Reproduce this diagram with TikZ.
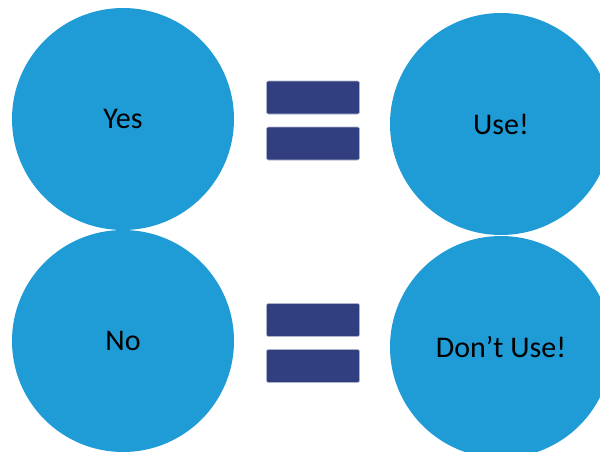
\documentclass[tikz,border=0pt]{standalone}
\usepackage{fontspec}
\setmainfont{Carlito}
\definecolor{disc}{RGB}{31,155,214}
\definecolor{bar}{RGB}{49,63,128}
\usetikzlibrary{positioning}

\begin{document}
\begin{tikzpicture}[x=1pt,y=-1pt,
        disc/.style={circle,fill=disc,inner sep=0pt,minimum size=222pt,font=\fontsize{30}{36}\selectfont},
        bar/.style={rectangle,fill=bar,draw=bar!40!white,line width=.6pt,rounded corners=2pt,minimum width=93pt,minimum height=33pt,inner sep=0pt}]
        \useasboundingbox (0,0) rectangle (600,451);
        \node[disc] (yes) at (123,119) {Yes};
        \node[disc] (use) at (501,124) {Use!};
        \node[disc] (no) at (123,341) {No};
        \node[disc] (dont) at (501,347) {Don’t Use!};
        % equals signs
        \node[bar] (eqa) at (313,97.5) {};
        \node[bar] (eqb) at (313,143.5) {};
        \node[bar] (eqc) at (313,320) {};
        \node[bar] (eqd) at (313,366) {};
    \end{tikzpicture}
\end{document}
